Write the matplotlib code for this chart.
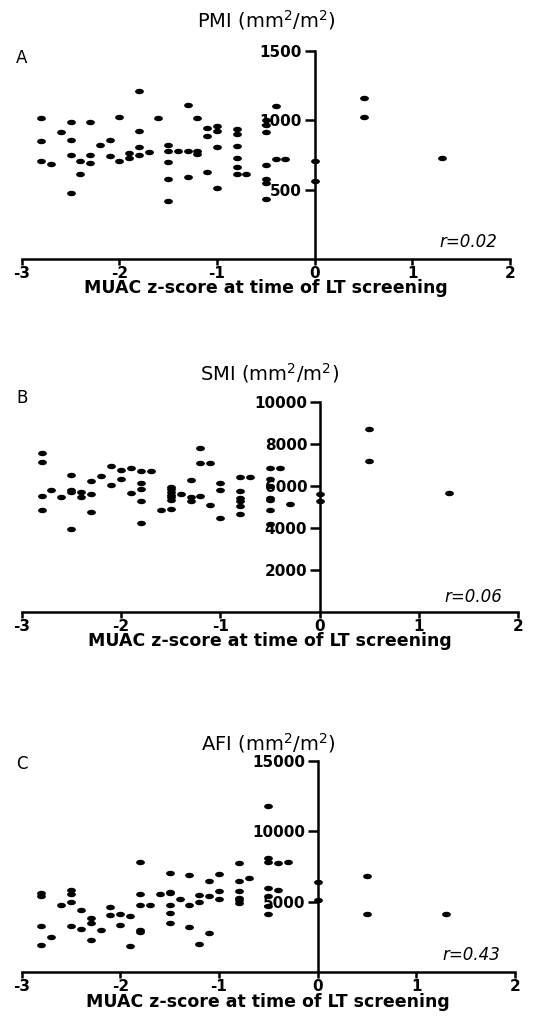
import matplotlib
matplotlib.use('Agg')
import matplotlib.pyplot as plt
import numpy as np

# wide sans, closer to the stretched lettering of the reference
plt.rcParams['font.family'] = ['DejaVu Sans']

# MUAC z-score (x) against muscle / fat index (y)
pmi_x = [-2.8, -2.8, -2.8, -2.7, -2.6, -2.5, -2.5, -2.5, -2.5, -2.4, -2.4,
         -2.3, -2.3, -2.3, -2.2, -2.1, -2.1, -2.0, -2.0, -1.9, -1.9,
         -1.8, -1.8, -1.8, -1.8, -1.7, -1.6, -1.5, -1.5, -1.5, -1.5, -1.5,
         -1.4, -1.3, -1.3, -1.3, -1.2, -1.2, -1.2, -1.1, -1.1, -1.1,
         -1.0, -1.0, -1.0, -1.0, -0.8, -0.8, -0.8, -0.8, -0.8, -0.8, -0.7,
         -0.5, -0.5, -0.5, -0.5, -0.5, -0.5, -0.5, -0.4, -0.4, -0.3,
         0.0, 0.0, 0.5, 0.5, 1.3]
pmi_y = [1015, 850, 705, 685, 915, 990, 855, 750, 475, 710, 615,
         985, 750, 690, 820, 860, 740, 1025, 710, 765, 730,
         1210, 925, 805, 750, 770, 1015, 825, 780, 700, 580, 420,
         780, 1110, 780, 590, 1020, 780, 760, 945, 885, 625,
         960, 925, 810, 510, 940, 905, 815, 730, 660, 610, 615,
         1000, 965, 915, 675, 580, 550, 430, 1100, 720, 720,
         705, 560, 1160, 1025, 725]

smi_x = [-2.8, -2.8, -2.8, -2.8, -2.7, -2.6, -2.5, -2.5, -2.5, -2.5,
         -2.4, -2.4, -2.3, -2.3, -2.3, -2.2, -2.1, -2.1, -2.0, -2.0,
         -1.9, -1.9, -1.8, -1.8, -1.8, -1.8, -1.8, -1.7, -1.6,
         -1.5, -1.5, -1.5, -1.5, -1.5, -1.5, -1.5, -1.4, -1.3, -1.3, -1.3,
         -1.2, -1.2, -1.2, -1.1, -1.1, -1.0, -1.0, -1.0,
         -0.8, -0.8, -0.8, -0.8, -0.8, -0.8, -0.7,
         -0.5, -0.5, -0.5, -0.5, -0.5, -0.5, -0.5, -0.4, -0.3,
         0.0, 0.0, 0.5, 0.5, 1.3]
smi_y = [7570, 7130, 5540, 4880, 5810, 5500, 6540, 5820, 5730, 3970,
         5700, 5470, 6270, 5620, 4770, 6480, 6970, 6080, 6750, 6350,
         6860, 5680, 6720, 6130, 5860, 5280, 4240, 6720, 4870,
         5980, 5860, 5730, 5600, 5470, 5350, 4900, 5650, 6290, 5500, 5310,
         7800, 7100, 5520, 7090, 5110, 6140, 5840, 4480,
         6420, 5750, 5430, 5280, 5060, 4660, 6420,
         6890, 6320, 6020, 5440, 5330, 4880, 4200, 6890, 5170,
         5620, 5310, 8750, 7180, 5680]

afi_x = [-2.8, -2.8, -2.8, -2.8, -2.7, -2.6, -2.5, -2.5, -2.5, -2.5,
         -2.4, -2.4, -2.3, -2.3, -2.3, -2.2, -2.1, -2.1, -2.0, -2.0,
         -1.9, -1.9, -1.8, -1.8, -1.8, -1.8, -1.8, -1.7, -1.6,
         -1.5, -1.5, -1.5, -1.5, -1.5, -1.5, -1.4, -1.3, -1.3, -1.3,
         -1.2, -1.2, -1.2, -1.1, -1.1, -1.1, -1.0, -1.0, -1.0,
         -0.8, -0.8, -0.8, -0.8, -0.8, -0.8, -0.7,
         -0.5, -0.5, -0.5, -0.5, -0.5, -0.5, -0.5, -0.4, -0.4, -0.3,
         0.0, 0.0, 0.5, 0.5, 1.3]
afi_y = [5620, 5430, 3250, 1930, 2480, 4780, 5840, 5530, 5000, 3250,
         4380, 3080, 3830, 3470, 2270, 2960, 4590, 4040, 4140, 3370,
         3970, 1860, 7810, 5530, 4740, 2960, 2840, 4740, 5530,
         7010, 5720, 5600, 4740, 4210, 3490, 5190, 6920, 4740, 3230,
         5460, 5000, 1960, 6460, 5380, 2790, 6940, 5740, 5190,
         7780, 6440, 5770, 5260, 5100, 4930, 6680,
         11790, 8090, 7810, 5940, 5380, 4690, 4110, 7730, 5820, 7810,
         6370, 5120, 6850, 4090, 4090]

x_ticks = [-3, -2, -1, 0, 1, 2]
x_ticklabels = ['-3', '-2', '-1', '0', '1', '2']
xlabel = 'MUAC z-score at time of LT screening'

# slightly wide dot, like the squashed reference
t = np.linspace(0, 2 * np.pi, 40)
dot = np.column_stack([np.cos(t), 0.62 * np.sin(t)])


def draw_panel(fig, rect, xs, ys, ymax, yticks, title, letter, rtext,
               title_y, letter_y, xlabel_y, r_xy):
    ax = fig.add_axes(rect)
    ax.scatter(xs, ys, marker=dot, s=40, color='black', linewidths=0,
               clip_on=False, zorder=3)
    ax.set_xlim(-3, 2)
    ax.set_ylim(0, ymax)
    ax.spines['left'].set_position(('data', 0))
    ax.spines['bottom'].set_position(('data', 0))
    for side in ['top', 'right']:
        ax.spines[side].set_visible(False)
    for side in ['left', 'bottom']:
        ax.spines[side].set_linewidth(1.8)
    ax.set_xticks(x_ticks)
    ax.set_xticklabels(x_ticklabels)
    ax.set_yticks(yticks)
    ax.tick_params(axis='x', direction='out', length=4, width=1.8,
                   pad=1, labelsize=11)
    ax.tick_params(axis='y', direction='out', length=7, width=1.8,
                   pad=2, labelsize=11)
    for lab in ax.get_xticklabels() + ax.get_yticklabels():
        lab.set_fontweight('bold')

    cx = rect[0] + rect[2] / 2
    fig.text(cx, title_y, title, ha='center', va='center', fontsize=14)
    fig.text(0.03, letter_y, letter, ha='left', va='center', fontsize=12)
    fig.text(cx, xlabel_y, xlabel, ha='center', va='center',
             fontsize=12.5, fontweight='bold')
    fig.text(r_xy[0], r_xy[1], rtext, ha='right', va='center',
             fontsize=12, style='italic')
    return ax


fig = plt.figure(figsize=(5.45, 10.21), dpi=100)
H = 1021.0
W = 545.0

draw_panel(fig, [21.7 / W, 1 - 259 / H, (510 - 21.7) / W, 208 / H],
           pmi_x, pmi_y, 1500, [500, 1000, 1500],
           r'PMI (mm$^2$/m$^2$)', 'A', 'r=0.02',
           1 - 20 / H, 1 - 58 / H, 1 - 288 / H, (497 / W, 1 - 242 / H))

draw_panel(fig, [21.7 / W, 1 - 612 / H, (518.3 - 21.7) / W, 209.7 / H],
           smi_x, smi_y, 10000, [2000, 4000, 6000, 8000, 10000],
           r'SMI (mm$^2$/m$^2$)', 'B', 'r=0.06',
           1 - 373 / H, 1 - 398 / H, 1 - 641 / H, (502 / W, 1 - 597 / H))

draw_panel(fig, [21.7 / W, 1 - 972 / H, (515 - 21.7) / W, 211 / H],
           afi_x, afi_y, 15000, [5000, 10000, 15000],
           r'AFI (mm$^2$/m$^2$)', 'C', 'r=0.43',
           1 - 743 / H, 1 - 764 / H, 1 - 1002 / H, (500 / W, 1 - 955 / H))

fig.savefig('out.png', dpi=100)
